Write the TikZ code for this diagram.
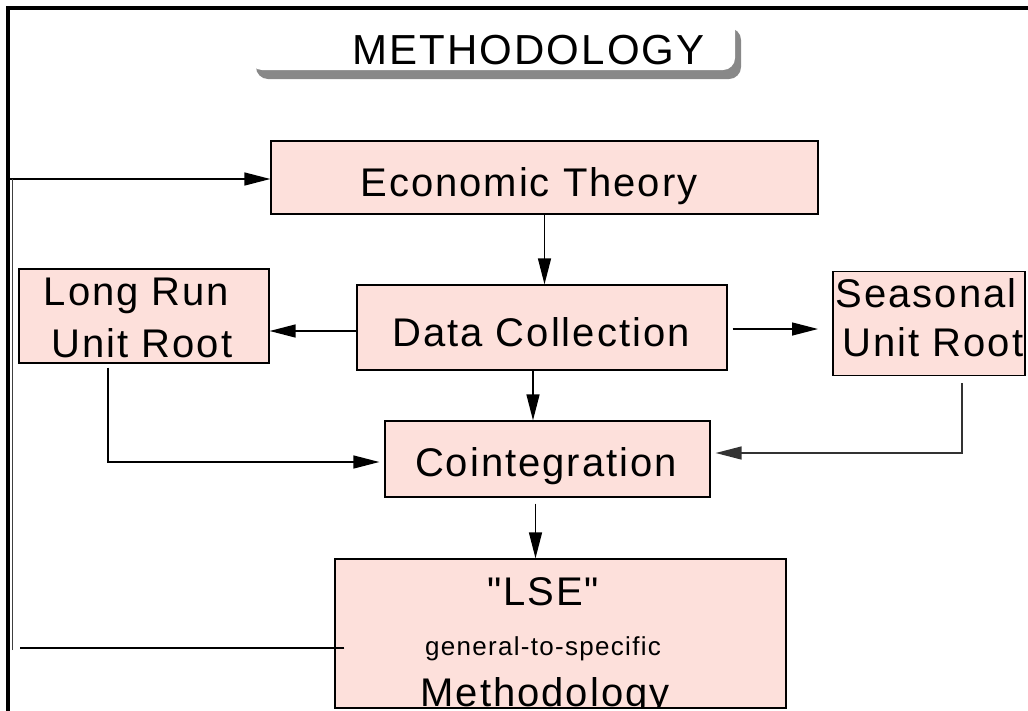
\documentclass[tikz,border=0pt]{standalone}
\usepackage{fontspec}
\setmainfont{Liberation Sans}[LetterSpace=5, Ligatures=TeXOff]
\usetikzlibrary{arrows.meta,calc}
\definecolor{pinkc}{RGB}{253,224,219}
\definecolor{shadowc}{RGB}{136,136,136}
\begin{document}
\begin{tikzpicture}[x=1pt,y=-1pt,
  pbox/.style={draw=black, line width=1.3pt, fill=pinkc, inner sep=0pt},
  big/.style={anchor=base, inner sep=0pt, align=center, font=\fontsize{40}{51}\selectfont},
  conn/.style={line width=1.4pt, -{Triangle[length=26pt,width=13pt]}},
  conngray/.style={line width=1.4pt, draw=black!80, -{Triangle[length=26pt,width=13pt]}},
  plain/.style={line width=1.4pt},
  frame/.style={line width=3.5pt},
  txt/.style={anchor=base, inner sep=0pt}]
\useasboundingbox (0,0) rectangle (1028,710);
\fill[white] (0,0) rectangle (1028,710);

% title
\fill[shadowc, rounded corners=12pt] (256,28) rectangle (741,79);
\fill[white, rounded corners=12pt] (250,18) rectangle (735,70);
\node[txt, font=\fontsize{42}{46}\selectfont] (title) at (528.5,64) {METHODOLOGY};

% frame
\coordinate (ftr) at (1028,8);
\coordinate (ftl) at (8,8);
\coordinate (fbl) at (8,712);
\draw[frame] (ftr) -- (ftl) -- (fbl);

% boxes
\node[pbox, minimum width=547pt, minimum height=73pt] (econ) at (544.5,177.5) {};
\node[big] (econT) at (529,196) {Economic Theory};
\node[pbox, minimum width=370pt, minimum height=85pt] (data) at (542,327.5) {};
\node[big] (dataT) at (541,346) {Data Collection};
\node[pbox, minimum width=250pt, minimum height=94pt] (longrun) at (144,316) {};
\node[big] (longrunA) at (136.5,305) {Long Run};
\node[big] (longrunB) at (142,357) {Unit Root};
\node[pbox, minimum width=192pt, minimum height=104pt] (seasonal) at (929,323.5) {};
\node[big] (seasonalA) at (926,307) {Seasonal};
\node[big] (seasonalB) at (933,356) {Unit Root};
\node[pbox, minimum width=325pt, minimum height=76pt] (coint) at (547.5,459) {};
\node[big] (cointT) at (546,476) {Cointegration};
\node[pbox, minimum width=451pt, minimum height=149pt] (lse) at (560.5,633.5) {};
\begin{scope}
\clip (lse.north west) rectangle (lse.south east);
\node[big] (lsea) at (543,605) {"LSE"};
\node[txt, font=\fontsize{26}{30}\selectfont] (lseb) at (543,655) {general-to-specific};
\node[big] (lsec) at (545,706) {Methodology};
\end{scope}
\draw[line width=1.3pt] (lse.north west) rectangle (lse.south east);

% connectors
\coordinate (fbin) at (10,179);
\draw[conn] (fbin) -- (fbin -| econ.west);
\draw[conn] (econ.south) -- (econ.south |- data.north);
\coordinate (dw) at ($(data.west)+(0,3.5)$);
\draw[conn] (dw) -- (dw -| longrun.east);
\coordinate (de) at ($(data.east)+(5,1.5)$);
\coordinate (sarr) at (818,329);
\draw[conn] (de) -- (sarr);
\coordinate (ds) at ($(data.south)+(-9,0)$);
\draw[conn] (ds) -- (ds |- coint.north);
\coordinate (ls) at ($(longrun.south)+(-36,4)$);
\coordinate (cw) at ($(coint.west)+(-5,3)$);
\draw[conn] (ls) |- (cw);
\coordinate (ss) at ($(seasonal.south)+(33,7)$);
\coordinate (ce) at ($(coint.east)+(5,-6)$);
\draw[conngray] (ss) |- (ce);
\coordinate (cs) at ($(coint.south)+(-12,6)$);
\draw[conn] (cs) -- (cs |- lse.north);

% feedback line
\coordinate (lfb) at ($(lse.west)+(10,14.5)$);
\coordinate (fbend) at (20,648);
\draw[plain] (lfb) -- (fbend);
\coordinate (fv1) at (12.5,650);
\coordinate (fv2) at (12.5,179);
\draw[line width=1.2pt, black!75] (fv1) -- (fv2);
\end{tikzpicture}
\end{document}
